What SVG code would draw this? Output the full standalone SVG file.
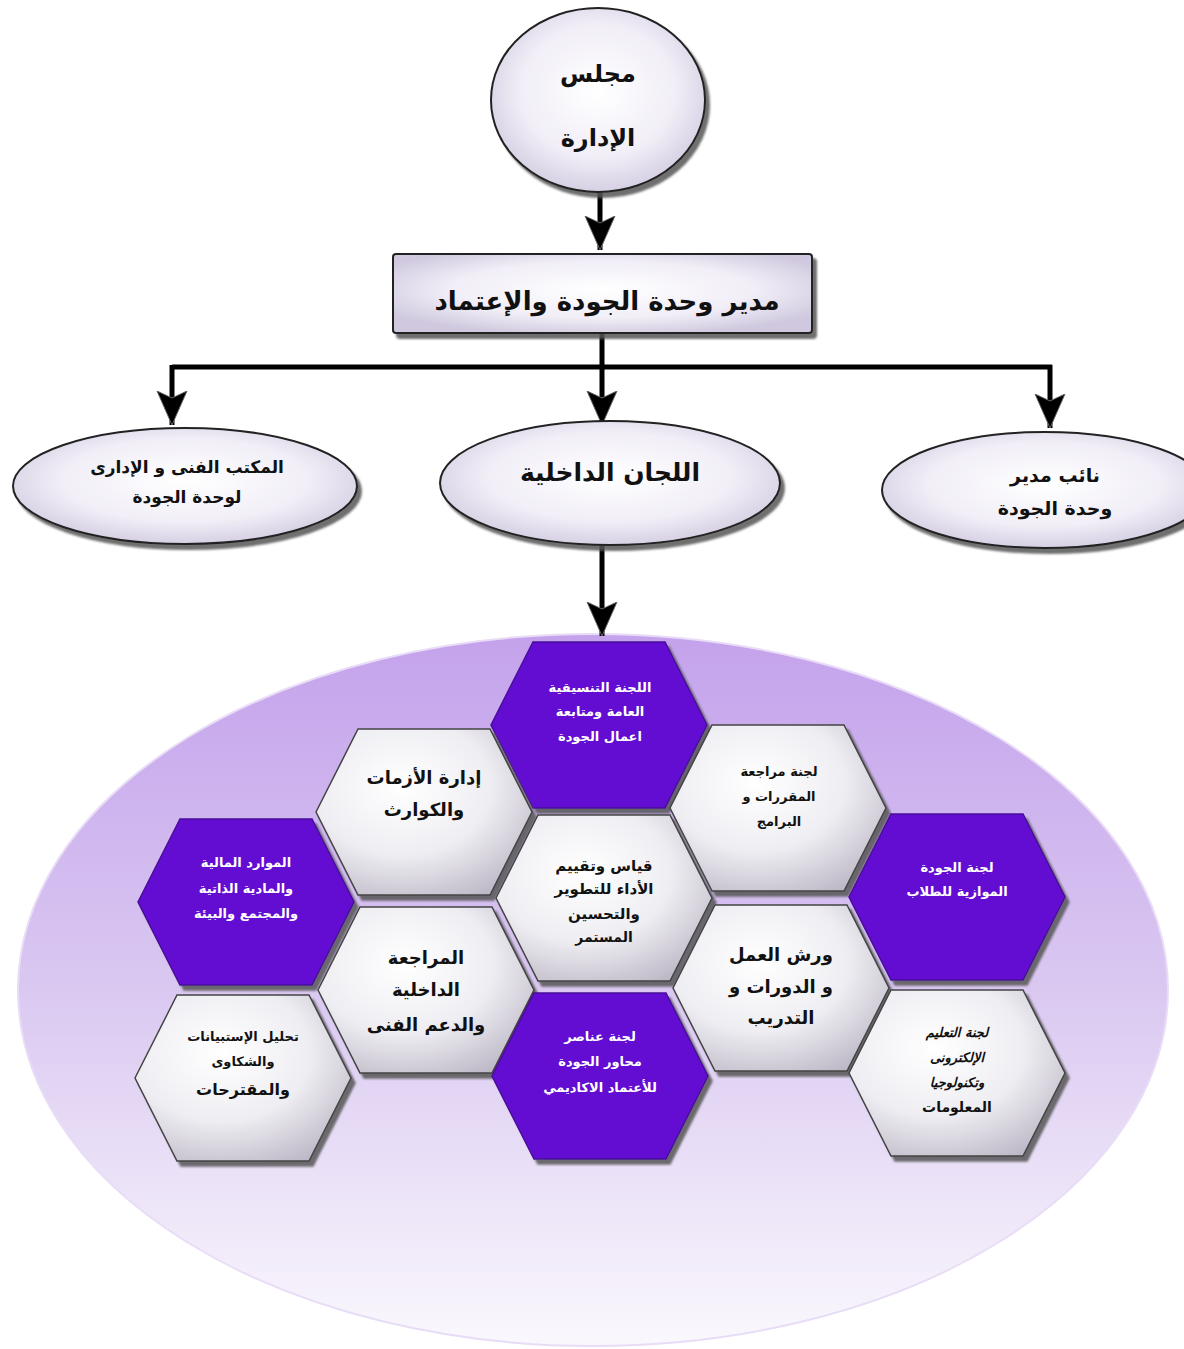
<svg xmlns="http://www.w3.org/2000/svg" xmlns:xlink="http://www.w3.org/1999/xlink" width="1184" height="1349" viewBox="0 0 1184 1349">
<defs>
<style>
.t{font-family:"DejaVu Sans","Liberation Sans",sans-serif;font-weight:bold;text-anchor:middle;fill:#111;}
.w{fill:#fff;font-size:13px;}
.line{stroke:#000;stroke-width:5;fill:none;}
.node{fill:url(#ng);stroke:#222;stroke-width:2;filter:url(#sh);}
.hg{fill:url(#hg);stroke:#444;stroke-width:1.5;filter:url(#sh);}
.hp{fill:#6410d2;stroke:#4a0a9a;stroke-width:1.5;filter:url(#sh);}
</style>
<radialGradient id="ng" cx="0.5" cy="0.45" r="0.6">
<stop offset="0" stop-color="#ffffff"/>
<stop offset="0.6" stop-color="#f1eef7"/>
<stop offset="1" stop-color="#cfc8de"/>
</radialGradient>
<radialGradient id="hg" cx="0.4" cy="0.35" r="0.75">
<stop offset="0" stop-color="#ffffff"/>
<stop offset="0.55" stop-color="#eeedf2"/>
<stop offset="1" stop-color="#bdb8c6"/>
</radialGradient>
<linearGradient id="bg" x1="0" y1="0" x2="0" y2="1">
<stop offset="0" stop-color="#c4a2ec"/>
<stop offset="0.5" stop-color="#dac8f1"/>
<stop offset="1" stop-color="#faf8fd"/>
</linearGradient>
<filter id="sh" x="-10%" y="-10%" width="130%" height="130%">
<feDropShadow dx="4" dy="5" stdDeviation="1.2" flood-color="#555" flood-opacity="0.85"/>
</filter>
<marker id="ah" markerUnits="userSpaceOnUse" markerWidth="40" markerHeight="34" refX="34" refY="17" orient="auto" viewBox="0 0 40 34">
<path d="M0,2 L34,17 L0,32 L7,17 Z" fill="#000" stroke="#666" stroke-width="1"/>
</marker>
<polygon id="hex" points="-108,0 -66,-83 66,-83 108,0 66,83 -66,83"/>
</defs>

<ellipse id="bigellipse" cx="593" cy="990" rx="575" ry="356" fill="url(#bg)" stroke="#e8dcf6" stroke-width="2"/>

<g id="connectors">
<path class="line" d="M600,190 V250" marker-end="url(#ah)"/>
<path class="line" d="M602,333 V367"/>
<path class="line" d="M172,367 H1052"/>
<path class="line" d="M172,365 V425" marker-end="url(#ah)"/>
<path class="line" d="M602,365 V425" marker-end="url(#ah)"/>
<path class="line" d="M1050,365 V428" marker-end="url(#ah)"/>
<path class="line" d="M602,545 V636" marker-end="url(#ah)"/>
</g>

<g id="n-board">
<ellipse class="node" cx="598" cy="100" rx="107" ry="92"/>
<text class="t" x="598" y="82" font-size="24">مجلس</text>
<text class="t" x="598" y="146" font-size="24">الإدارة</text>
</g>

<g id="n-director">
<rect class="node" x="393" y="254" width="419" height="79" rx="3"/>
<text class="t" x="607" y="310" font-size="26">مدير وحدة الجودة والإعتماد</text>
</g>

<g id="n-office">
<ellipse class="node" cx="185" cy="486" rx="172" ry="58"/>
<text class="t" x="187" y="473" font-size="17">المكتب الفنى و الإدارى</text>
<text class="t" x="187" y="503" font-size="17">لوحدة الجودة</text>
</g>

<g id="n-committees">
<ellipse class="node" cx="610" cy="483" rx="170" ry="62"/>
<text class="t" x="610" y="481" font-size="25">اللجان الداخلية</text>
</g>

<g id="n-deputy">
<ellipse class="node" cx="1045" cy="490" rx="163" ry="58"/>
<text class="t" x="1055" y="482" font-size="19">نائب مدير</text>
<text class="t" x="1055" y="515" font-size="19">وحدة الجودة</text>
</g>

<g id="h1">
<use xlink:href="#hex" class="hp" transform="translate(599,725)"/>
<text class="t w" x="600" y="692">اللجنة التنسيقية</text>
<text class="t w" x="600" y="716">العامة ومتابعة</text>
<text class="t w" x="600" y="741">اعمال الجودة</text>
</g>

<g id="h2">
<use xlink:href="#hex" class="hg" transform="translate(424,812)"/>
<text class="t" x="424" y="784" font-size="18">إدارة الأزمات</text>
<text class="t" x="424" y="816" font-size="18">والكوارث</text>
</g>

<g id="h3">
<use xlink:href="#hex" class="hg" transform="translate(778,808)"/>
<text class="t" x="779" y="776" font-size="13">لجنة مراجعة</text>
<text class="t" x="779" y="801" font-size="13">المقررات و</text>
<text class="t" x="779" y="826" font-size="13">البرامج</text>
</g>

<g id="h4">
<use xlink:href="#hex" class="hp" transform="translate(246,902)"/>
<text class="t w" x="246" y="867">الموارد المالية</text>
<text class="t w" x="246" y="893">والمادية الذاتية</text>
<text class="t w" x="246" y="918">والمجتمع والبيئة</text>
</g>

<g id="h5">
<use xlink:href="#hex" class="hg" transform="translate(604,898)"/>
<text class="t" x="604" y="871" font-size="15">قياس وتقييم</text>
<text class="t" x="604" y="894" font-size="15">الأداء للتطوير</text>
<text class="t" x="604" y="919" font-size="15">والتحسين</text>
<text class="t" x="604" y="942" font-size="14">المستمر</text>
</g>

<g id="h6">
<use xlink:href="#hex" class="hp" transform="translate(957,897)"/>
<text class="t w" x="957" y="872">لجنة الجودة</text>
<text class="t w" x="957" y="896">الموازية للطلاب</text>
</g>

<g id="h7">
<use xlink:href="#hex" class="hg" transform="translate(426,990)"/>
<text class="t" x="426" y="964" font-size="18">المراجعة</text>
<text class="t" x="426" y="996" font-size="18">الداخلية</text>
<text class="t" x="426" y="1031" font-size="18">والدعم الفنى</text>
</g>

<g id="h8">
<use xlink:href="#hex" class="hg" transform="translate(781,988)"/>
<text class="t" x="781" y="961" font-size="18">ورش العمل</text>
<text class="t" x="781" y="993" font-size="18">و الدورات و</text>
<text class="t" x="781" y="1024" font-size="18">التدريب</text>
</g>

<g id="h9">
<use xlink:href="#hex" class="hg" transform="translate(243,1078)"/>
<text class="t" x="243" y="1041" font-size="13">تحليل الإستبيانات</text>
<text class="t" x="243" y="1066" font-size="13">والشكاوى</text>
<text class="t" x="243" y="1095" font-size="16">والمقترحات</text>
</g>

<g id="h10">
<use xlink:href="#hex" class="hp" transform="translate(600,1076)"/>
<text class="t w" x="600" y="1041">لجنة عناصر</text>
<text class="t w" x="600" y="1066">محاور الجودة</text>
<text class="t w" x="600" y="1092">للأعتماد الاكاديمي</text>
</g>

<g id="h11">
<use xlink:href="#hex" class="hg" transform="translate(957,1073)"/>
<text class="t" x="957" y="1037" font-size="13" font-style="italic">لجنة التعليم</text>
<text class="t" x="957" y="1062" font-size="13" font-style="italic">الإلكترونى</text>
<text class="t" x="957" y="1087" font-size="13" font-style="italic">وتكنولوجيا</text>
<text class="t" x="957" y="1112" font-size="14">المعلومات</text>
</g>
</svg>
